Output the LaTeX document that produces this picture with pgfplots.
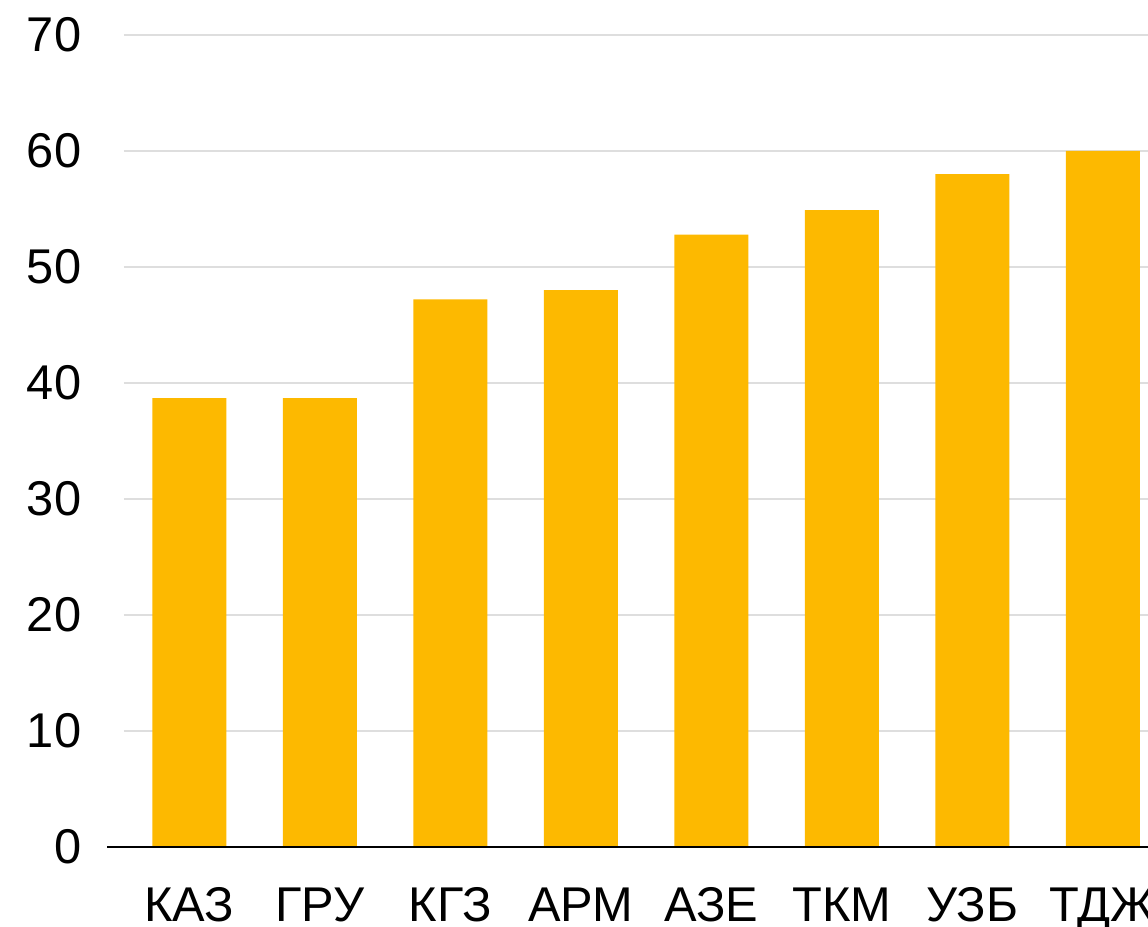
\documentclass[border=0pt]{standalone}
\usepackage{fontspec}
\setmainfont{Liberation Sans}
\usepackage{pgfplots}
\pgfplotsset{compat=1.18}
\definecolor{baryellow}{RGB}{253,185,0}
\definecolor{gridgray}{RGB}{222,222,222}

\begin{document}
\begin{tikzpicture}
\begin{axis}[
    scale only axis,
    width=256pt,
    height=203pt,
    ymin=0, ymax=70,
    xmin=-0.5, xmax=7.346,
    ytick={0,10,...,70},
    xtick={0,...,7},
    xticklabels={КАЗ,ГРУ,КГЗ,АРМ,АЗЕ,ТКМ,УЗБ,ТДЖ},
    axis line style={draw=none},
    major tick length=0pt,
    ymajorgrids=true,
    grid style={gridgray, line width=0.35pt},
    tick label style={font=\fontsize{12.2}{14}\selectfont},
    /pgf/number format/assume math mode=true,
    yticklabel style={anchor=east, inner sep=0pt, xshift=-10.5pt},
    xticklabel style={anchor=north, inner sep=0pt, yshift=-10pt},
    clip=false,
    ybar,
    bar width=18.5pt,
]
\addplot[fill=baryellow, draw=none]
  coordinates {(0,38.7)(1,38.7)(2,47.2)(3,48.0)(4,52.8)(5,54.9)(6,58.0)(7,60.0)};
\draw[black, line width=0.7pt] (axis cs:-0.63,0) -- (axis cs:7.346,0);
\coordinate (bl) at (rel axis cs:0,0);
\coordinate (tr) at (rel axis cs:1,1);
\end{axis}
\pgfresetboundingbox
\useasboundingbox ([xshift=-31pt,yshift=-20pt]bl) rectangle ([yshift=8.75pt]tr);
\end{tikzpicture}
\end{document}
